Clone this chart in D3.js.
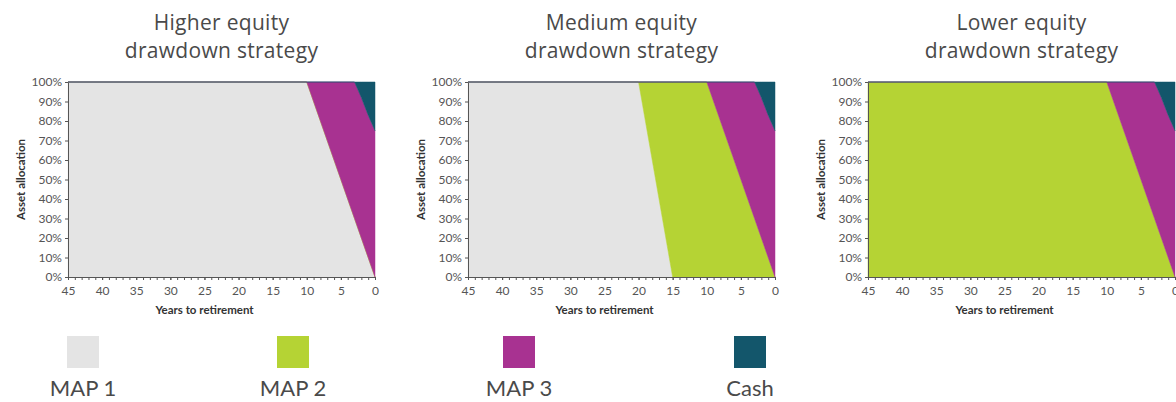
<!DOCTYPE html>
<html>
<head>
<meta charset="utf-8">
<script src="https://cdn.jsdelivr.net/npm/d3@7"></script>
<style>
  body { margin: 0; background: #fff; }
  svg { display: block; font-family: Lato, "Open Sans", sans-serif; }
  .axis path, .axis line { stroke: #555; }
  .axis text { fill: #555; font-size: 12px; font-family: Lato, sans-serif; }
</style>
</head>
<body>
<div id="chart"></div>
<script>
// data for the charts (years to retirement, allocation in %)
const years = [45, 20, 15, 10, 5, 3, 2, 1, 0];
const keys = ["MAP 1", "MAP 2", "MAP 3", "Cash"];

const higherMap1 = [100, 100, 100, 100, 50, 30, 20, 10, 0];
const higherMap2 = [0, 0, 0, 0, 0, 0, 0, 0, 0];
const higherMap3 = [0, 0, 0, 0, 50, 70, 72, 73, 75];
const higherCash = [0, 0, 0, 0, 0, 0, 8, 17, 25];

const mediumMap1 = [100, 100, 0, 0, 0, 0, 0, 0, 0];
const mediumMap2 = [0, 0, 100, 100, 50, 30, 20, 10, 0];
const mediumMap3 = [0, 0, 0, 0, 50, 70, 72, 73, 75];
const mediumCash = [0, 0, 0, 0, 0, 0, 8, 17, 25];

const lowerMap1 = [0, 0, 0, 0, 0, 0, 0, 0, 0];
const lowerMap2 = [100, 100, 100, 100, 50, 30, 20, 10, 0];
const lowerMap3 = [0, 0, 0, 0, 50, 70, 72, 73, 75];
const lowerCash = [0, 0, 0, 0, 0, 0, 8, 17, 25];

const chartTitles = [
  ["Higher equity", "drawdown strategy"],
  ["Medium equity", "drawdown strategy"],
  ["Lower equity", "drawdown strategy"]
];

const xTicks = [45, 40, 35, 30, 25, 20, 15, 10, 5, 0];
const yTicks = [0, 10, 20, 30, 40, 50, 60, 70, 80, 90, 100];

const COLORS = {
  "MAP 1": "#e4e4e4",
  "MAP 2": "#b5d334",
  "MAP 3": "#a83291",
  "Cash": "#13566b"
};

const W = 1176, H = 402;
let svg = null;

function buildRows(m1, m2, m3, cash) {
  return years.map(function(yr, i) {
    return {year: yr, "MAP 1": m1[i], "MAP 2": m2[i], "MAP 3": m3[i], "Cash": cash[i]};
  });
}

const strategies = [
  buildRows(higherMap1, higherMap2, higherMap3, higherCash),
  buildRows(mediumMap1, mediumMap2, mediumMap3, mediumCash),
  buildRows(lowerMap1, lowerMap2, lowerMap3, lowerCash)
];

svg = d3.select("#chart").append("svg")
  .attr("width", W)
  .attr("height", H);

strategies.forEach(function(rows, i) {
  drawPanel(rows, chartTitles[i], i * 400);
});
drawLegend();

function drawPanel(rows, title, offsetX) {
  const left = 68, top = 82, plotW = 307, plotH = 195;
  const g = svg.append("g").attr("transform", `translate(${offsetX + left}, ${top})`);

  const x = d3.scaleLinear().domain([45, 0]).range([0, plotW]);
  const y = d3.scaleLinear().domain([0, 100]).range([plotH, 0]);

  const series = d3.stack().keys(keys)(rows);
  const area = d3.area()
    .x(function(d) { return x(d.data.year); })
    .y0(function(d) { return y(d[0]); })
    .y1(function(d) { return y(d[1]); });

  g.selectAll("path.layer")
    .data(series)
    .enter().append("path")
    .attr("class", "layer")
    .attr("fill", function(d) { return COLORS[d.key]; })
    .attr("stroke", function(d) { return COLORS[d.key]; })
    .attr("stroke-width", 0.5)
    .attr("d", area);

  // minor ticks every year
  g.append("g")
    .attr("class", "axis")
    .attr("transform", `translate(0, ${plotH})`)
    .call(d3.axisBottom(x).tickValues(d3.range(0, 46)).tickSize(3).tickFormat(""))
    .call(function(a) { a.select(".domain").remove(); });

  g.append("g")
    .attr("class", "axis")
    .attr("transform", `translate(0, ${plotH})`)
    .call(d3.axisBottom(x).tickValues(xTicks).tickSize(3).tickSizeOuter(0).tickPadding(6));

  g.append("g")
    .attr("class", "axis")
    .call(d3.axisLeft(y).tickValues(yTicks).tickSize(3).tickSizeOuter(0).tickPadding(3)
      .tickFormat(function(d) { return d + "%"; }));

  g.append("text")
    .attr("x", plotW / 2 - 17)
    .attr("y", plotH + 37)
    .attr("text-anchor", "middle")
    .attr("fill", "#333")
    .style("font-size", "11.5px")
    .style("font-weight", "bold")
    .text("Years to retirement");

  g.append("text")
    .attr("transform", `translate(-43, ${plotH / 2}) rotate(-90)`)
    .attr("text-anchor", "middle")
    .attr("fill", "#333")
    .style("font-size", "11.5px")
    .style("font-weight", "bold")
    .text("Asset allocation");

  const t = svg.append("text")
    .attr("x", offsetX + left + plotW / 2)
    .attr("y", 30)
    .attr("text-anchor", "middle")
    .attr("fill", "#4a4a4a")
    .style("font-family", "'Open Sans', sans-serif")
    .style("font-size", "21px")
    .style("letter-spacing", "0.3px");
  t.append("tspan").attr("x", offsetX + left + plotW / 2).text(title[0]);
  t.append("tspan").attr("x", offsetX + left + plotW / 2).attr("dy", 28).text(title[1]);
}

function drawLegend() {
  const legendX = [83, 293, 519, 750];
  const legend = svg.append("g").attr("class", "legend");
  keys.forEach(function(k, i) {
    legend.append("rect")
      .attr("x", legendX[i] - 16)
      .attr("y", 336)
      .attr("width", 32)
      .attr("height", 32)
      .attr("fill", COLORS[k]);
    legend.append("text")
      .attr("x", legendX[i])
      .attr("y", 396)
      .attr("text-anchor", "middle")
      .attr("fill", "#4a4a4a")
      .style("font-size", "22px")
      .text(k);
  });
}
</script>
</body>
</html>
